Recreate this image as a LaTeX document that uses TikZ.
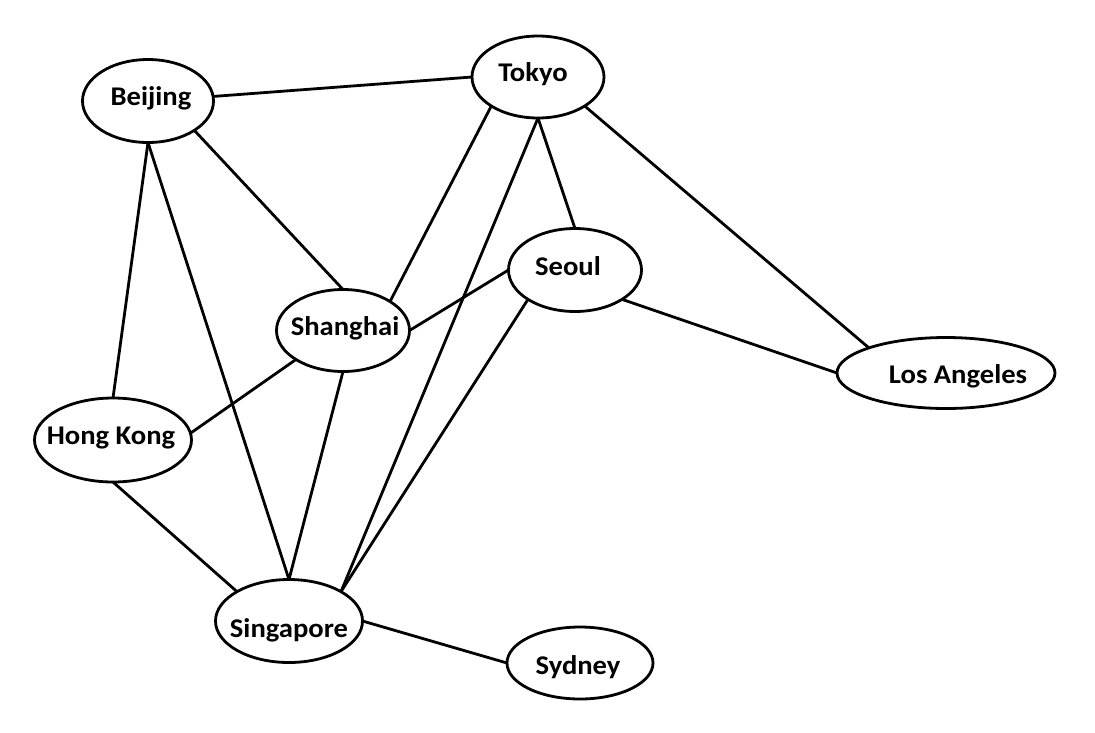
\documentclass[tikz,border=0pt]{standalone}
\usepackage{fontspec}
\newfontfamily\cityfont{Carlito}[FakeStretch=1.06]
\usetikzlibrary{shapes.geometric}
\begin{document}
\begin{tikzpicture}[x=1pt,y=-1pt,
  city/.style={ellipse, draw=black, line width=2.8pt, fill=white, inner sep=0pt, outer sep=0pt},
  citytext/.style={anchor=base, inner sep=0pt, font=\cityfont\bfseries\fontsize{27}{32}\selectfont},
  link/.style={draw=black, line width=2.8pt}]
\fill[white] (0,0) rectangle (1095,732);
\useasboundingbox (0,0) rectangle (1095,732);
% ellipses
\node[city, minimum width=131pt, minimum height=83pt] (beijing) at (148,101) {};
\node[city, minimum width=132pt, minimum height=82pt] (tokyo) at (538,77) {};
\node[city, minimum width=133pt, minimum height=83pt] (seoul) at (575,270) {};
\node[city, minimum width=133pt, minimum height=82pt] (shanghai) at (343,330.5) {};
\node[city, minimum width=218pt, minimum height=71pt] (la) at (946,373) {};
\node[city, minimum width=157pt, minimum height=84pt] (hk) at (113,440) {};
\node[city, minimum width=147pt, minimum height=83pt] (sing) at (289,621) {};
\node[city, minimum width=146pt, minimum height=72pt] (syd) at (580,663) {};
% connectors
\draw[link] (beijing.4) -- (tokyo.west);
\draw[link] (beijing.south) -- (hk.north);
\draw[link] (beijing.south) -- (sing.north);
\draw[link] (beijing.south east) -- (shanghai.north);
\draw[link] (tokyo.south west) -- (shanghai.north east);
\draw[link] (tokyo.south) -- (sing.north east);
\draw[link] (tokyo.south) -- (seoul.north);
\draw[link] (tokyo.south east) -- (la.north west);
\draw[link] (seoul.west) -- (shanghai.east);
\draw[link] (seoul.south west) -- (sing.north east);
\draw[link] (seoul.south east) -- (la.west);
\draw[link] (shanghai.south west) -- (hk.5);
\draw[link] (shanghai.south) -- (sing.north);
\draw[link] (hk.south) -- (sing.north west);
\draw[link] (sing.east) -- (syd.west);
% texts
\node[citytext] (beijingT) at (151,105) {Beijing};
\node[citytext] (tokyoT) at (533,81.7) {Tokyo};
\node[citytext] (seoulT) at (568,275) {Seoul};
\node[citytext] (shanghaiT) at (345,335) {Shanghai};
\node[citytext] (laT) at (958,383) {Los Angeles};
\node[citytext] (hkT) at (111,444) {Hong Kong};
\node[citytext] (singT) at (289,637) {Singapore};
\node[citytext] (sydT) at (578,674) {Sydney};
\end{tikzpicture}
\end{document}
